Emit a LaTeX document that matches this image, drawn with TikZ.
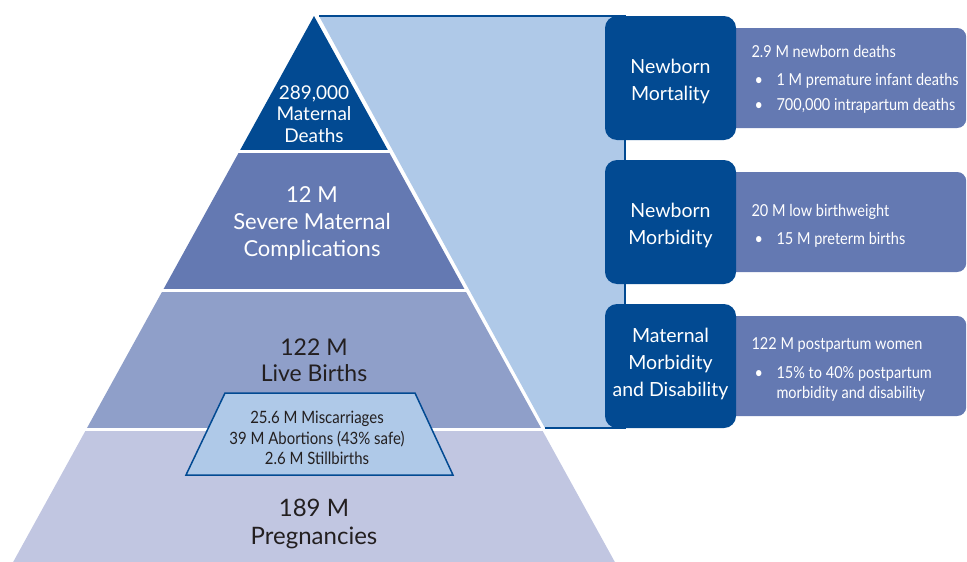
\documentclass[tikz,border=0pt]{standalone}
\usepackage{fontspec}
\setmainfont{Lato}
\newfontfamily\narrowfont[FakeStretch=0.88]{Lato}
\usetikzlibrary{positioning}
\definecolor{deepblue}{RGB}{2,74,146}
\definecolor{midblue}{RGB}{100,121,178}
\definecolor{softblue}{RGB}{143,159,201}
\definecolor{mistblue}{RGB}{193,198,225}
\definecolor{paleblue}{RGB}{175,201,232}
\definecolor{inkgray}{RGB}{35,31,32}
\begin{document}
\begin{tikzpicture}[x=1pt,y=-1pt,
    tier/.style={align=center,font=\fontsize{22}{27}\selectfont},
    cause/.style={fill=deepblue,rounded corners=12pt,minimum width=131pt,minimum height=124pt,
      text=white,align=center,font=\fontsize{19.5}{27}\selectfont},
    note/.style={fill=midblue,rounded corners=9pt,minimum width=240pt,minimum height=100pt},
    notetext/.style={text=white,align=left,anchor=west,font=\narrowfont\fontsize{16.5}{20}\selectfont}]
  \useasboundingbox (0,0) rectangle (967,562);

  % light panel behind the top three tiers
  \fill[paleblue] (319,16) -- (625,16) -- (625,428) -- (545,428) -- cycle;
  \draw[deepblue,line width=1.5] (319,16) -- (625,16) -- (625,428) -- (545,428);

  % pyramid tiers
  \begin{scope}
    \clip (314,16) -- (616.5,565) -- (11.5,565) -- cycle;
    \fill[deepblue] (0,0) rectangle (967,150);
    \fill[midblue] (0,153) rectangle (967,289);
    \fill[softblue] (0,292) rectangle (967,428);
    \fill[mistblue] (0,431) rectangle (967,565);
  \end{scope}
  \node[tier,text=white,font=\fontsize{19}{21.5}\selectfont] (deaths) at (314,114) {289,000\\Maternal\\Deaths};
  \node[tier,text=white] (severe) at (312,223) {12 M\\Severe Maternal\\Complications};
  \node[tier,text=inkgray,font=\fontsize{23}{26}\selectfont] (births) at (314,360) {122 M\\Live Births};
  \node[tier,text=inkgray,font=\fontsize{24}{28}\selectfont] (preg) at (314,524) {189 M\\Pregnancies};

  % losses box
  \draw[deepblue,line width=1.5,fill=paleblue] (225,393) -- (415,393) -- (453,475) -- (186,475) -- cycle;
  \node[align=center,text=inkgray,font=\narrowfont\fontsize{17}{20.5}\selectfont] (loss) at (317,438)
    {25.6 M Miscarriages\\39 M Abortions (43\% safe)\\2.6 M Stillbirths};

  % outcome boxes with their notes
  \node[note,anchor=west] (mortnote) at (726,78) {};
  \node[note,anchor=west] (morbnote) at (726,222) {};
  \node[note,anchor=west] (disnote) at (726,366) {};

  \node[cause] (mort) at (670.5,78) {};
  \node[cause] (morb) at (670.5,222) {};
  \node[cause] (dis) at (670.5,366) {};
  \node[cause,fill=none] (morthead) at (670.5,81) {Newborn\\Mortality};
  \node[cause,fill=none] (morbhead) at (670.5,225) {Newborn\\Morbidity};
  \node[cause,fill=none] (dishead) at (670.5,364) {Maternal\\Morbidity\\and Disability};

  \node[notetext] (morttext) at (748,79) {2.9 M newborn deaths\\[8pt]
    \makebox[25pt][l]{\hspace{3pt}\textbullet}1 M premature infant deaths\\[5pt]
    \makebox[25pt][l]{\hspace{3pt}\textbullet}700,000 intrapartum deaths};
  \node[notetext] (morbtext) at (748,226) {20 M low birthweight\\[8pt]
    \makebox[25pt][l]{\hspace{3pt}\textbullet}15 M preterm births};
  \node[notetext] (distext) at (748,369) {122 M postpartum women\\[9pt]
    \makebox[25pt][l]{\hspace{3pt}\textbullet}15\% to 40\% postpartum\\
    \makebox[25pt][l]{}morbidity and disability};
\end{tikzpicture}
\end{document}
